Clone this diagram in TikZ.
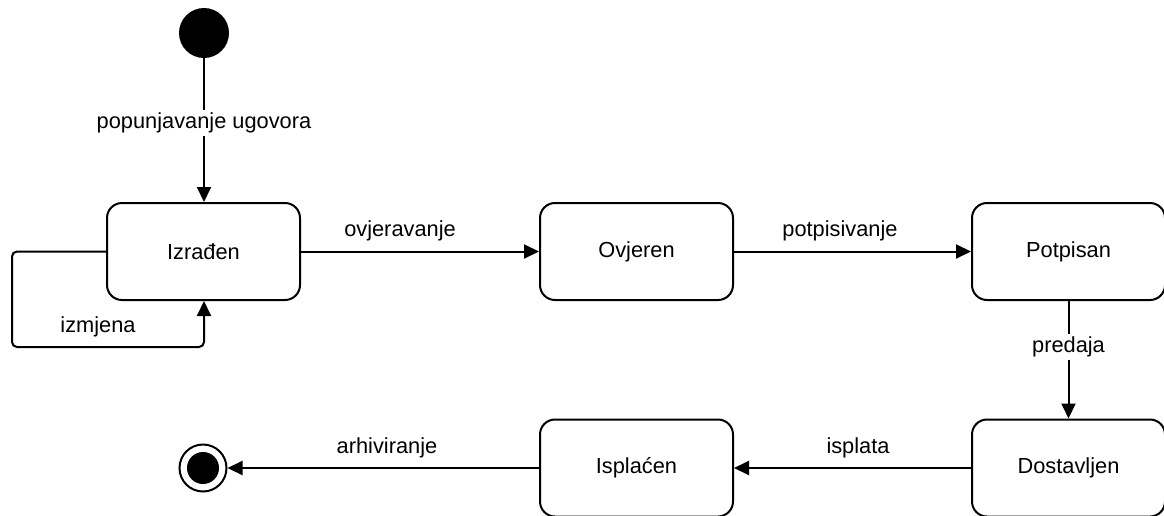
\documentclass[tikz,border=0pt]{standalone}
\usepackage{fontspec}
\setmainfont{Liberation Sans}
\usetikzlibrary{arrows.meta}
\begin{document}
\begin{tikzpicture}[x=1pt,y=-1pt,
  state/.style={draw,line width=2pt,rounded corners=15pt,minimum width=193pt,minimum height=97pt,inner sep=0pt,font=\fontsize{21.8}{25}\selectfont},
  lbl/.style={font=\fontsize{21.8}{25}\selectfont,inner sep=1pt},
  tr/.style={line width=2pt,-{Triangle[length=15pt,width=14pt]}},
  ]
\useasboundingbox (0,0) rectangle (1164,515);
\node[circle,fill=black,minimum size=50pt,inner sep=0pt] (init) at (204,33) {};
\node[state] (izr) at (203.5,251.5) {Izrađen};
\node[state] (ovj) at (636.5,251.5) {Ovjeren};
\node[state] (pot) at (1068.5,251.5) {Potpisan};
\node[state] (dos) at (1068.5,468) {Dostavljen};
\node[state] (isp) at (636.5,468) {Isplaćen};
\node[circle,draw,line width=2pt,minimum size=47pt,inner sep=0pt] (fin) at (203,468) {};
\node[circle,fill=black,minimum size=32pt,inner sep=0pt] at (fin.center) {};
\coordinate (l1) at (12,251.5);
\coordinate (l2) at (12,347);
\coordinate (l3) at (204,347);
\draw[tr] (init) -- (izr.north -| init)
  node[pos=0.45,fill=white,lbl,inner sep=3pt] {popunjavanje ugovora};
\draw[tr] (izr) -- (ovj);
\draw[tr] (ovj) -- (pot);
\draw[tr] (pot) -- (dos) node[pos=0.39,fill=white,lbl,inner sep=3pt] {predaja};
\draw[tr] (dos) -- (isp);
\draw[tr] (isp) -- (fin);
\draw[tr,rounded corners=5pt] (izr.west) -- (l1) -- (l2) -- (l3) -- (izr.south -| l3);
\node[lbl] at (98,327) {izmjena};
\node[lbl] at (400,231) {ovjeravanje};
\node[lbl] at (840,231) {potpisivanje};
\node[lbl] at (858,448) {isplata};
\node[lbl] at (387,448) {arhiviranje};
\end{tikzpicture}
\end{document}
